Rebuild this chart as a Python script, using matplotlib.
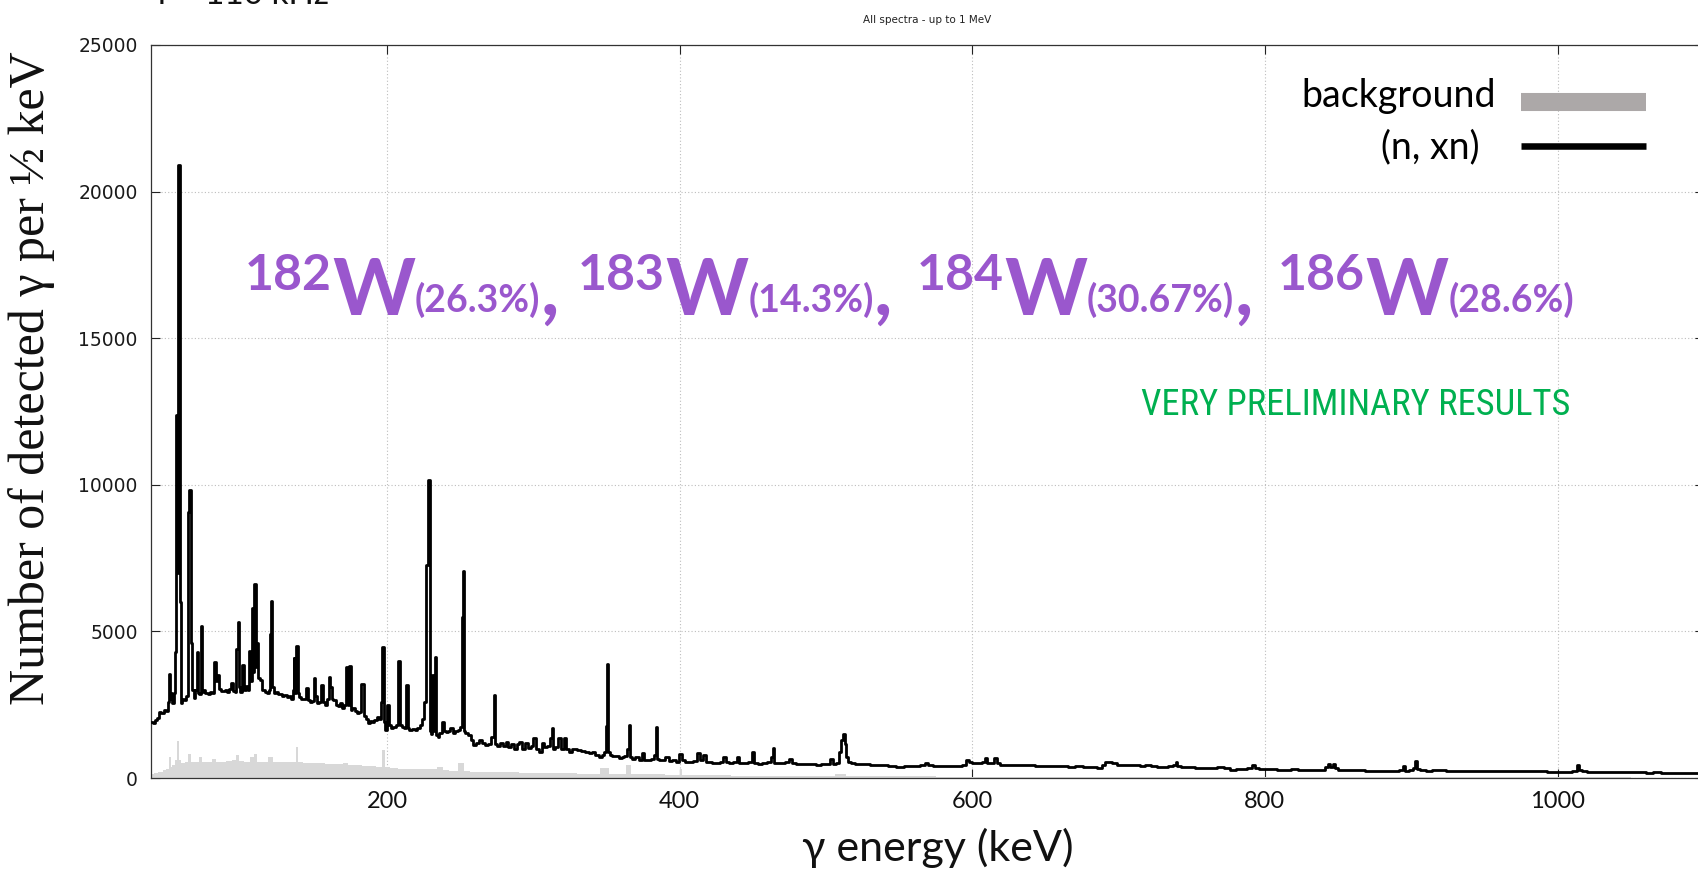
import matplotlib
matplotlib.use("Agg")
import matplotlib.pyplot as plt
from matplotlib.lines import Line2D
from matplotlib import font_manager

# ---------------------------------------------------------------- data
# (n, xn) gamma spectrum: energy (keV) and counts per 1/2 keV
nxn_energy = [
    39.0, 40.5, 42.0, 43.5, 45.0, 46.5, 48.0, 49.5, 50.5, 51.2, 51.8, 52.5, 53.5, 54.5,
    55.3, 56.0, 56.6, 57.3, 57.9, 58.5, 59.2, 60.5, 62.0, 63.5, 64.5, 65.3, 65.9, 66.6,
    67.3, 68.3, 69.5, 70.3, 71.3, 72.0, 73.0, 73.8, 75.0, 76.5, 78.0, 79.5, 81.0, 82.7,
    83.5, 84.5, 85.5, 87.0, 88.5, 90.0, 91.5, 93.0, 94.0, 95.0, 96.5, 97.5, 98.2, 99.0,
    100.0, 101.6, 102.5, 104.0, 105.3, 106.2, 107.0, 108.0, 108.8, 109.8, 110.6, 111.6,
    112.5, 114.0, 115.5, 117.0, 118.5, 119.5, 120.2, 121.0, 121.8, 123.0, 124.5, 126.0,
    127.5, 129.0, 130.5, 132.0, 133.5, 135.0, 135.8, 136.3, 137.0, 138.5, 139.3, 140.5,
    142.0, 143.5, 145.4, 146.5, 148.0, 149.5, 150.5, 151.5, 153.0, 154.0, 155.6, 156.5,
    158.0, 159.5, 160.6, 161.5, 162.5, 164.0, 165.5, 167.0, 168.5, 170.0, 171.5, 172.7,
    173.5, 174.5, 175.5, 177.0, 178.5, 180.0, 181.5, 183.4, 184.5, 186.0, 187.5, 189.0,
    190.5, 192.0, 193.5, 195.0, 196.3, 197.1, 198.0, 199.5, 201.0, 202.0, 203.5, 205.0,
    206.5, 208.5, 209.5, 211.0, 212.5, 213.6, 214.5, 216.0, 218.0, 220.0, 221.5, 223.0,
    224.5, 225.8, 227.0, 228.5, 229.5, 230.5, 231.5, 232.3, 232.9, 234.0, 235.0, 236.5,
    238.0, 239.5, 241.0, 242.5, 244.0, 245.5, 247.5, 249.5, 250.8, 251.5, 252.0, 252.7,
    254.0, 256.0, 258.0, 260.0, 262.0, 264.0, 266.0, 268.0, 270.0, 272.5, 273.3, 274.2,
    276.0, 278.0, 280.0, 282.0, 283.5, 285.5, 287.5, 289.5, 291.2, 293.0, 295.7, 297.5,
    299.0, 301.0, 302.5, 304.8, 306.5, 308.5, 310.5, 312.0, 312.8, 313.6, 315.5, 317.8,
    319.5, 321.9, 323.0, 325.3, 328.0, 331.0, 334.0, 337.0, 339.0, 341.0, 343.5, 345.8,
    347.5, 349.3, 350.0, 350.9, 351.6, 353.0, 355.0, 357.5, 359.5, 361.0, 363.0, 365.0,
    365.7, 366.5, 368.5, 371.0, 373.0, 375.0, 376.5, 379.0, 381.5, 383.4, 384.1, 384.9,
    387.0, 389.0, 391.4, 393.5, 396.0, 398.5, 400.5, 402.0, 405.0, 408.0, 410.5, 413.0,
    414.5, 417.0, 418.5, 421.0, 423.3, 426.0, 428.5, 430.6, 432.0, 435.0, 438.0, 440.0,
    441.5, 445.0, 448.5, 450.2, 451.5, 455.0, 458.0, 461.0, 463.7, 464.3, 465.0, 468.0,
    471.0, 473.5, 475.7, 477.5, 481.0, 484.5, 488.0, 491.7, 495.0, 498.0, 501.0, 504.2,
    505.5, 508.0, 509.5, 511.0, 512.2, 513.2, 514.5, 516.0, 518.0, 521.0, 524.5, 528.0,
    532.0, 536.0, 540.0, 545.0, 551.0, 555.0, 559.0, 563.0, 566.0, 569.0, 571.0, 575.0,
    579.0, 583.0, 587.0, 591.0, 595.0, 596.8, 598.5, 601.6, 605.0, 608.0, 609.7, 611.0,
    614.0, 616.2, 617.5, 620.0, 625.0, 630.0, 635.0, 640.0, 645.0, 648.6, 653.0, 658.0,
    663.0, 668.0, 673.0, 678.0, 683.0, 687.5, 690.0, 692.0, 694.0, 697.0, 700.5, 704.0,
    708.0, 712.0, 716.7, 720.0, 724.0, 728.0, 732.0, 736.0, 738.5, 739.4, 740.5, 745.0,
    750.0, 755.0, 760.0, 765.0, 770.0, 774.0, 778.3, 782.0, 786.0, 790.0, 792.2, 794.0,
    797.7, 802.0, 806.0, 810.7, 815.0, 820.0, 825.0, 830.0, 835.0, 839.9, 842.0, 844.0,
    845.5, 847.0, 848.5, 851.2, 856.0, 861.0, 866.0, 871.0, 875.5, 880.0, 885.0, 890.0,
    893.5, 895.0, 896.5, 900.0, 902.0, 903.0, 904.5, 908.0, 912.0, 916.0, 921.0, 926.0,
    931.0, 935.0, 940.0, 945.0, 950.0, 955.0, 960.0, 965.0, 970.0, 975.0, 980.0, 985.0,
    990.0, 995.0, 998.7, 1003.0, 1008.0, 1012.0, 1014.0, 1016.0, 1018.0, 1022.0, 1027.0,
    1032.0, 1037.0, 1042.0, 1047.0, 1053.8, 1058.0, 1063.0, 1068.0, 1073.0, 1078.0,
    1083.0, 1088.0, 1092.0, 1096.0, 1100.0,
]
nxn_counts = [
    1920, 1880, 1990, 2050, 2260, 2200, 2310, 2280, 2600, 3540, 2700, 2900, 2550, 2900,
    4300, 12380, 7000, 20900, 20900, 6000, 2550, 2700, 2650, 2800, 9085, 9823, 4820, 4590,
    3000, 2717, 3000, 4310, 2900, 2850, 5185, 2950, 3000, 2900, 2880, 2950, 2900, 3968,
    3300, 3513, 3050, 2960, 2980, 3000, 2950, 3050, 3229, 2980, 2950, 4400, 5333, 3100,
    2945, 3854, 3000, 3150, 3000, 4343, 3300, 5787, 3600, 6606, 3800, 4593,
    3400, 3343, 3000, 2950, 2888, 3000, 4900, 6049, 3100, 2900, 2930, 2850,
    2870, 2800, 2820, 2750, 2780, 2700, 3000, 4082, 2900, 4503, 2900, 2750,
    2700, 2680, 3059, 2650, 2600, 2620, 3400, 2800, 2550, 2600, 3172, 2600,
    2500, 2700, 3456, 3100, 2700, 2660, 2500, 2450, 2550, 2400, 2500, 3797,
    2500, 3820, 2320, 2400, 2300, 2200, 2250, 3206, 2100, 2000, 1865, 1950,
    1900, 1980, 2092, 2000, 2600, 4480, 1900, 1637, 2490, 1800, 1694, 1750,
    1800, 3991, 1800, 1751, 1700, 3172, 1700, 1650, 1680, 1637, 1700, 1800,
    2000, 2604, 7265, 10165, 1600, 1500, 3513, 1600, 4139, 1450, 1410, 1550,
    1921, 1600, 1580, 1600, 1694, 1550, 1600, 1650, 1751, 5500, 7072, 1600,
    1524, 1450, 1300, 1126, 1200, 1296, 1200, 1126, 1150, 1400, 2831, 1150,
    1100, 1182, 1100, 1240, 1050, 1160, 1000, 1150, 1240, 1000, 1200, 1012,
    1100, 1376, 1000, 898, 1180, 1050, 1100, 1350, 1717, 1000, 1050, 1353,
    1000, 1353, 1000, 900, 980, 950, 920, 900, 864, 900, 800, 728,
    800, 900, 1774, 3877, 900, 800, 750, 740, 671, 700, 750, 1000,
    1808, 700, 650, 700, 620, 841, 620, 600, 650, 800, 1751, 650,
    600, 620, 728, 580, 600, 560, 819, 600, 557, 560, 580, 841,
    600, 785, 560, 540, 500, 520, 560, 728, 540, 500, 560, 705,
    520, 520, 560, 898, 520, 478, 500, 530, 700, 1012, 520, 500,
    520, 560, 637, 500, 480, 470, 490, 478, 460, 470, 480, 637,
    490, 520, 900, 1296, 1500, 1150, 700, 540, 500, 480, 470, 478,
    460, 440, 430, 420, 386, 400, 410, 400, 440, 500, 440, 420,
    410, 420, 400, 410, 450, 626, 560, 512, 520, 560, 683, 520,
    520, 683, 520, 455, 450, 440, 430, 440, 410, 399, 420, 400,
    410, 390, 400, 380, 370, 342, 460, 560, 547, 500, 455, 460,
    440, 450, 421, 440, 400, 380, 380, 400, 440, 535, 400, 380,
    360, 350, 340, 350, 364, 330, 285, 300, 320, 340, 455, 330,
    307, 300, 290, 262, 280, 290, 270, 280, 285, 285, 380, 490,
    380, 490, 330, 285, 270, 280, 260, 250, 228, 240, 250, 240,
    260, 399, 250, 260, 350, 592, 300, 260, 250, 260, 262, 240,
    250, 235, 228, 240, 235, 230, 250, 240, 230, 228, 240, 225,
    230, 210, 194, 215, 210, 250, 433, 280, 228, 220, 205,
    215, 200, 205, 195, 194, 200, 185, 190, 180, 185,
    175, 180, 171, 175, 170,
]

# room background spectrum: energy (keV) and counts per 1/2 keV
bkg_energy = [
    39, 42, 45, 48, 50, 51.5, 52.5, 54, 56, 57.3, 58.5, 60, 63, 65, 66.5, 70, 73, 74,
    78, 82.5, 84, 88, 92, 96, 98, 100, 105, 108, 110, 112, 116, 121, 123, 128, 132,
    136, 138.8, 140, 145, 150, 155, 160, 168, 172, 175, 180, 185, 190, 195, 197.5,
    199, 205, 210, 215, 220, 228, 230, 237.5, 239, 245, 252, 253.5, 260, 270, 280,
    300, 320, 340, 351, 352, 360, 366, 367, 380, 400, 401, 402, 420, 450, 500, 512,
    515, 550, 600, 650, 700, 750, 800, 900, 1000, 1100,
]
bkg_counts = [
    150, 180, 220, 280, 320, 700, 380, 450, 600, 1250, 600, 520, 540, 820, 560, 560,
    700, 560, 560, 640, 560, 560, 580, 600, 780, 580, 560, 700, 820, 560, 560, 700,
    540, 560, 540, 560, 1070, 540, 520, 520, 500, 480, 470, 520, 460, 440, 420, 400,
    380, 950, 360, 340, 320, 320, 300, 320, 300, 390, 260, 250, 520, 240, 220, 210,
    200, 180, 160, 150, 330, 150, 140, 440, 130, 120, 100, 300, 100, 90, 80, 70, 140,
    60, 55, 50, 45, 40, 35, 30, 25, 20, 15,
]

x_ticks = [200, 400, 600, 800, 1000]
y_ticks = [0, 5000, 10000, 15000, 20000, 25000]
legend_labels = ["background", "(n, xn)"]
isotope_mass = ["182", "183", "184", "186"]
isotope_abundance = ["(26.3%)", "(14.3%)", "(30.67%)", "(28.6%)"]

# ---------------------------------------------------------------- style
W, H = 1698, 876
PURPLE = "#9a57cd"
GREEN = "#00b050"
available = {f.name for f in font_manager.fontManager.ttflist}


def first_font(candidates, fallback="DejaVu Sans"):
    for name in candidates:
        if name in available:
            return name
    return fallback


SANS = first_font(["Lato", "Open Sans", "Noto Sans"])
SERIF = first_font(["Liberation Serif", "DejaVu Serif"])
NARROW = first_font(["Liberation Sans Narrow", "Roboto Condensed",
                     "Open Sans Condensed", "DejaVu Sans Condensed", "Roboto"])

fig = plt.figure(figsize=(W / 100, H / 100), dpi=100)
fig.patch.set_facecolor("white")

# axes: 1 keV = 1.463 px, 25000 counts = 733 px
x_min, x_max = 38.6, 1100.0
ax = fig.add_axes([151 / W, 98 / H, (x_max - x_min) * 1.463 / W, 733 / H])
ax.set_xlim(x_min, x_max)
ax.set_ylim(0, 25000)

ax.fill_between(bkg_energy, bkg_counts, 0, step="mid", color="#d8d8d8",
                linewidth=0, zorder=2)
ax.plot(nxn_energy, nxn_counts, color="black", lw=2.0, drawstyle="steps-mid",
        zorder=3)

ax.set_xticks(x_ticks)
ax.set_yticks(y_ticks)
ax.set_axisbelow(True)
ax.grid(True, color="#bdbdbd", linestyle=(0, (1, 2)), linewidth=0.8)
ax.tick_params(axis="both", direction="in", length=6.5, width=0.8,
               top=True, right=True, color="#222222")
ax.tick_params(axis="y", labelsize=13.5, pad=9.5, labelcolor="#1a1a1a",
               labelfontfamily="DejaVu Sans")
ax.tick_params(axis="x", labelsize=17, pad=9, labelcolor="#111111",
               labelfontfamily=SANS)
for side in ("left", "bottom", "top", "right"):
    ax.spines[side].set_color("#333333")
    ax.spines[side].set_linewidth(0.9)

ax.set_title("All spectra - up to 1 MeV", fontsize=7.5, color="#222222",
             family="DejaVu Sans", pad=16)

ax.set_xlabel("γ energy (keV)", fontsize=31, family=[SANS, "DejaVu Sans"],
              color="#111111")
ax.xaxis.set_label_coords((938 - 151) / ((x_max - x_min) * 1.463), (778 - 848) / 733)
ax.xaxis.label.set_va("center")

ax.set_ylabel("Number of detected γ per ½ keV", fontsize=36,
              family=[SERIF, "DejaVu Serif"], color="#111111")
ax.yaxis.set_label_coords((32 - 151) / ((x_max - x_min) * 1.463), (778 - 378) / 733)
ax.yaxis.label.set_va("center")
ax.yaxis.label.set_ha("center")

# frequency note, mostly above the top edge of the figure
fig.text(157 / W, 1 - 4 / H, "f = 110 kHz", fontsize=24, family=SANS,
         color="#111111", va="baseline", ha="left")

# legend keys drawn on the figure
fig.add_artist(Line2D([1521 / W, 1646 / W], [1 - 102 / H, 1 - 102 / H],
                      color="#aca8a8", lw=13, solid_capstyle="butt"))
fig.add_artist(Line2D([1521 / W, 1646 / W], [1 - 146 / H, 1 - 146 / H],
                      color="black", lw=4.7, solid_capstyle="butt"))
fig.text(1496 / W, 1 - 107 / H, legend_labels[0], fontsize=27, family=SANS,
         ha="right", va="baseline", color="black")
fig.text(1480 / W, 1 - 158 / H, legend_labels[1], fontsize=27, family=SANS,
         ha="right", va="baseline", color="black")

# isotope composition line
group_left = [245, 578, 917, 1278]
w_base = H - 315
for i, (mass, abund) in enumerate(zip(isotope_mass, isotope_abundance)):
    t_sup = ax.annotate(mass, xy=(group_left[i], w_base + 25), xycoords="figure pixels",
                        fontsize=36, fontweight="bold", family=SANS, color=PURPLE,
                        ha="left", va="baseline", annotation_clip=False)
    t_w = ax.annotate("W", xy=(1, w_base), xycoords=(t_sup, "figure pixels"),
                      fontsize=57, fontweight="bold", family=SANS, color=PURPLE,
                      ha="left", va="baseline", annotation_clip=False)
    t_sub = ax.annotate(abund, xy=(1, w_base + 3), xycoords=(t_w, "figure pixels"),
                        fontsize=27, fontweight="bold", family=SANS, color=PURPLE,
                        ha="left", va="baseline", annotation_clip=False)
    if i < len(isotope_mass) - 1:
        ax.annotate(",", xy=(1, w_base), xycoords=(t_sub, "figure pixels"),
                    fontsize=57, fontweight="bold", family=SANS, color=PURPLE,
                    ha="left", va="baseline", annotation_clip=False)

# status note, sized to its box width
note = fig.text(1570 / W, (H - 415) / H, "VERY PRELIMINARY RESULTS", fontsize=30,
                family=NARROW, color=GREEN, ha="right", va="baseline")
renderer = fig.canvas.get_renderer()
width_px = note.get_window_extent(renderer).width
note.set_fontsize(30 * 430 / width_px)

fig.savefig("out.png", dpi=100, facecolor="white")
